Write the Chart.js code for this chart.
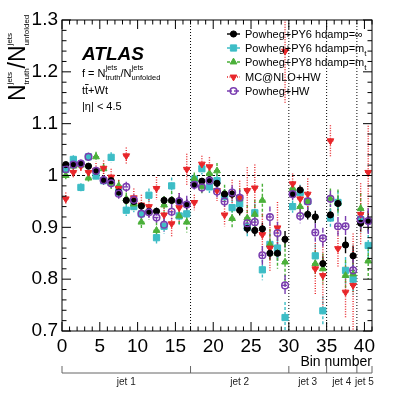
<!DOCTYPE html>
<html>
<head>
<meta charset="utf-8">
<script src="https://cdn.jsdelivr.net/npm/chart.js@4.4.0/dist/chart.umd.min.js"></script>
<style>
  html, body { margin: 0; padding: 0; background: #fff; }
  canvas { display: block; }
</style>
</head>
<body>
<canvas id="chart" width="413" height="396" style="width:413px;height:396px"></canvas>
<script>
// Valeurs (bin 0..40)
const seriesNames = ['Powheg+PY6 hdamp=\u221E', 'Powheg+PY6 hdamp=m', 'Powheg+PY8 hdamp=m', 'MC@NLO+HW', 'Powheg+HW'];

const py6Inf = [1.021, 1.021, 1.023, 1.018, 1.008, 0.990, 0.990, 0.968, 0.952, 0.950, 0.941, 0.931, 0.931, 0.952, 0.952, 0.951, 0.944,
  0.982, 0.989, 0.992, 0.985, 0.964, 0.964, 0.933, 0.898, 0.894, 0.897, 0.850, 0.850, 0.877,
  0.964, 0.972, 0.925, 0.920, 0.830,
  0.924, 0.946, 0.866, 0.845,
  0.908, 0.912];
const py6Mt = [1.012, 1.031, 0.977, 1.036, 0.999, 0.990, 1.035, 0.968, 0.933, 0.940, 0.926, 0.962, 0.880, 0.902, 0.980, 0.922, 0.926,
  0.993, 1.013, 0.978, 0.990, 0.960, 0.938, 0.945, 0.900, 0.928, 0.818, 0.867, 0.860, 0.726,
  0.940, 0.967, 0.950, 0.845, 0.739,
  0.918, 0.948, 0.817, 0.800,
  0.915, 0.865];
const py8Mt = [1.000, 1.018, 1.020, 0.995, 1.036, 1.013, 0.985, 0.980, 0.955, 0.945, 0.910, 0.930, 0.894, 0.943, 0.952, 0.922, 0.910,
  0.994, 0.978, 1.004, 1.009, 0.966, 0.917, 0.955, 0.918, 0.925, 0.952, 0.867, 0.850, 0.833,
  0.975, 0.940, 0.950, 0.830, 0.820,
  0.955, 0.948, 0.807, 0.810,
  0.936, 0.835];
const mcnloHw = [0.955, 1.006, 1.018, 1.006, 1.010, 1.014, 0.997, 0.975, 1.038, 0.957, 0.943, 0.940, 0.975, 0.924, 0.907, 0.938, 1.012,
  0.948, 1.022, 1.017, 0.971, 0.924, 0.964, 0.958, 0.971, 0.976, 0.886, 0.860, 0.899, 1.240,
  0.984, 0.955, 0.964, 0.820, 0.807,
  1.067, 0.859, 0.775, 0.788,
  0.925, 1.006];
const powhegHw = [1.012, 1.021, 1.023, 1.036, 1.009, 0.991, 0.985, 0.965, 0.978, 0.953, 0.926, 0.929, 0.919, 0.905, 0.930, 0.950, 0.944,
  0.982, 0.977, 0.990, 0.969, 0.950, 0.967, 0.957, 0.908, 0.910, 0.846, 0.920, 0.889, 0.788,
  0.964, 0.922, 0.950, 0.890, 0.879,
  0.955, 0.902, 0.902, 0.817,
  0.915, 0.912];

// Incertitudes (demi-longueur des barres)
const errPy6Inf = [0.005, 0.005, 0.005, 0.005, 0.005, 0.005, 0.005, 0.006, 0.006, 0.006, 0.007, 0.007, 0.007, 0.008, 0.008, 0.009, 0.010,
  0.006, 0.006, 0.007, 0.007, 0.008, 0.009, 0.010, 0.010, 0.011, 0.012, 0.013, 0.014, 0.016,
  0.008, 0.009, 0.010, 0.012, 0.014,
  0.012, 0.014, 0.016, 0.020,
  0.016, 0.020];
const errPy6Mt = [0.008, 0.008, 0.008, 0.008, 0.009, 0.009, 0.010, 0.010, 0.011, 0.011, 0.012, 0.013, 0.014, 0.015, 0.016, 0.017, 0.018,
  0.010, 0.011, 0.012, 0.013, 0.014, 0.015, 0.016, 0.017, 0.018, 0.020, 0.022, 0.025, 0.030,
  0.012, 0.015, 0.018, 0.022, 0.028,
  0.018, 0.022, 0.026, 0.030,
  0.025, 0.030];
const errPy8Mt = [0.008, 0.008, 0.008, 0.009, 0.010, 0.010, 0.011, 0.012, 0.012, 0.013, 0.014, 0.015, 0.016, 0.017, 0.018, 0.019, 0.020,
  0.012, 0.013, 0.014, 0.015, 0.016, 0.018, 0.020, 0.025, 0.028, 0.032, 0.030, 0.030, 0.045,
  0.015, 0.018, 0.020, 0.025, 0.030,
  0.020, 0.025, 0.030, 0.035,
  0.030, 0.035];
const errMcnloHw = [0.012, 0.012, 0.012, 0.013, 0.014, 0.015, 0.016, 0.016, 0.016, 0.018, 0.020, 0.020, 0.022, 0.024, 0.026, 0.028, 0.030,
  0.015, 0.016, 0.018, 0.020, 0.022, 0.028, 0.032, 0.045, 0.045, 0.040, 0.045, 0.050, 0.100,
  0.020, 0.025, 0.030, 0.050, 0.070,
  0.030, 0.035, 0.050, 0.100,
  0.060, 0.090];
const errPowhegHw = [0.007, 0.007, 0.008, 0.008, 0.008, 0.009, 0.009, 0.010, 0.010, 0.011, 0.012, 0.012, 0.013, 0.014, 0.015, 0.016, 0.017,
  0.009, 0.010, 0.011, 0.012, 0.013, 0.014, 0.015, 0.016, 0.017, 0.018, 0.020, 0.022, 0.020,
  0.012, 0.014, 0.016, 0.018, 0.020,
  0.016, 0.018, 0.020, 0.024,
  0.020, 0.025];

// Découpage en multiplicité de jets
const jetEdges = [0, 17, 30, 35, 39, 41];
const jetLabels = ['jet 1', 'jet 2', 'jet 3', 'jet 4', 'jet 5'];

const FONT = '"Liberation Sans", Arial, Helvetica, sans-serif';

const styles = [
  { color: '#000000', shape: 'circle',   radius: 3.1, fill: true,  dash: [] },
  { color: '#3dbdc6', shape: 'rect',     radius: 4.4, fill: true,  dash: [3, 2] },
  { color: '#4bb03a', shape: 'triangle', radius: 3.9, fill: true,  dash: [3, 2] },
  { color: '#e8262a', shape: 'triangle', radius: 3.9, fill: true,  dash: [1, 1.5], rotation: 180 },
  { color: '#7a3db0', shape: 'circle',   radius: 3.3, fill: false, dash: [5, 2] }
];
const values = [py6Inf, py6Mt, py8Mt, mcnloHw, powhegHw];
const errors = [errPy6Inf, errPy6Mt, errPy8Mt, errMcnloHw, errPowhegHw];
const drawOrder = [1, 4, 3, 2, 0]; // plus petit = au-dessus

const datasets = values.map((vals, k) => ({
  label: seriesNames[k],
  data: vals.map((v, i) => ({ x: i + 0.5, y: v })),
  errs: errors[k],
  showLine: false,
  order: drawOrder[k],
  pointStyle: styles[k].shape,
  pointRotation: styles[k].rotation || 0,
  pointRadius: styles[k].radius,
  pointBackgroundColor: styles[k].fill ? styles[k].color : 'rgba(0,0,0,0)',
  pointBorderColor: styles[k].color,
  pointBorderWidth: styles[k].fill ? 1 : 1.5
}));

function line(ctx, x1, y1, x2, y2) {
  ctx.beginPath(); ctx.moveTo(x1, y1); ctx.lineTo(x2, y2); ctx.stroke();
}

// N avec exposant et indice empilés
function scriptN(ctx, x, y, big, small, sup, sub, supDy, subDy) {
  ctx.font = big + 'px ' + FONT;
  ctx.fillText('N', x, y);
  x += ctx.measureText('N').width;
  ctx.font = small + 'px ' + FONT;
  ctx.fillText(sup, x, y + supDy);
  ctx.fillText(sub, x, y + subDy);
  return x + Math.max(ctx.measureText(sup).width, ctx.measureText(sub).width);
}

function drawMarker(ctx, st, x, y) {
  ctx.save();
  ctx.fillStyle = st.color; ctx.strokeStyle = st.color;
  ctx.lineWidth = st.fill ? 1 : 1.5;
  ctx.setLineDash([]);
  const r = st.radius;
  ctx.beginPath();
  if (st.shape === 'circle') {
    ctx.arc(x, y, r, 0, Math.PI * 2);
  } else if (st.shape === 'rect') {
    const s = r / Math.SQRT2;
    ctx.rect(x - s, y - s, 2 * s, 2 * s);
  } else {
    const dir = st.rotation ? -1 : 1;
    ctx.moveTo(x, y - dir * r);
    ctx.lineTo(x + r * 0.866, y + dir * r * 0.5);
    ctx.lineTo(x - r * 0.866, y + dir * r * 0.5);
    ctx.closePath();
  }
  if (st.fill) ctx.fill();
  ctx.stroke();
  ctx.restore();
}

const atlasPlugin = {
  id: 'atlasDecor',
  beforeDatasetsDraw(chart) {
    const { ctx, chartArea: a, scales: { x, y } } = chart;
    ctx.save();
    ctx.beginPath(); ctx.rect(a.left, a.top, a.right - a.left, a.bottom - a.top); ctx.clip();
    // ligne à 1
    ctx.strokeStyle = '#000'; ctx.lineWidth = 1.2; ctx.setLineDash([3, 2]);
    line(ctx, a.left, y.getPixelForValue(1), a.right, y.getPixelForValue(1));
    // séparations entre multiplicités
    ctx.lineWidth = 1; ctx.setLineDash([1, 2]);
    jetEdges.slice(1, -1).forEach(e => line(ctx, x.getPixelForValue(e), a.top, x.getPixelForValue(e), a.bottom));
    // barres d'erreur
    chart.data.datasets.forEach((ds, k) => {
      const st = styles[k];
      ctx.strokeStyle = st.color; ctx.lineWidth = 1.4; ctx.setLineDash(st.dash);
      ds.data.forEach((p, i) => {
        const e = ds.errs[i];
        const px = x.getPixelForValue(p.x);
        line(ctx, px, y.getPixelForValue(p.y + e), px, y.getPixelForValue(p.y - e));
        const py = y.getPixelForValue(p.y);
        line(ctx, x.getPixelForValue(p.x - 0.4), py, x.getPixelForValue(p.x + 0.4), py);
      });
    });
    ctx.restore();
  },
  afterDraw(chart) {
    const { ctx, chartArea: a, scales: { x, y } } = chart;
    ctx.save();
    ctx.strokeStyle = '#000'; ctx.lineWidth = 1; ctx.setLineDash([]);
    ctx.strokeRect(a.left, a.top, a.right - a.left, a.bottom - a.top);
    // graduations intérieures
    for (let v = 0; v <= 41; v++) {
      const px = x.getPixelForValue(v), len = v % 5 === 0 ? 9 : 4.5;
      line(ctx, px, a.bottom, px, a.bottom - len);
      line(ctx, px, a.top, px, a.top + len);
    }
    for (let k = 0; k <= 30; k++) {
      const py = y.getPixelForValue(0.7 + k * 0.02), len = k % 5 === 0 ? 9 : 4.5;
      line(ctx, a.left, py, a.left + len, py);
      line(ctx, a.right, py, a.right - len, py);
    }

    ctx.fillStyle = '#000';
    ctx.textBaseline = 'alphabetic';
    // titre de l'axe y
    ctx.save();
    ctx.translate(25, 101);
    ctx.rotate(-Math.PI / 2);
    let tx = scriptN(ctx, 0, 0, 23, 8, 'jets', 'truth', -13.5, 4);
    ctx.font = '23px ' + FONT;
    ctx.fillText('/', tx, 0);
    tx += ctx.measureText('/').width;
    scriptN(ctx, tx, 0, 23, 8, 'jets', 'unfolded', -13.5, 4);
    ctx.restore();

    // titre de l'axe x
    ctx.font = '14px ' + FONT;
    ctx.textAlign = 'right';
    ctx.fillText('Bin number', a.right, 366);
    ctx.textAlign = 'left';

    // axe des multiplicités
    ctx.strokeStyle = '#666'; ctx.lineWidth = 1;
    const yJ = 373;
    line(ctx, x.getPixelForValue(0), yJ, x.getPixelForValue(41), yJ);
    jetEdges.forEach(e => line(ctx, x.getPixelForValue(e), yJ, x.getPixelForValue(e), yJ - 7));
    ctx.font = '10px ' + FONT;
    ctx.fillStyle = '#222';
    ctx.textAlign = 'center';
    jetLabels.forEach((lab, i) => {
      ctx.fillText(lab, (x.getPixelForValue(jetEdges[i]) + x.getPixelForValue(jetEdges[i + 1])) / 2, 385);
    });
    ctx.textAlign = 'left';
    ctx.fillStyle = '#000';

    // étiquette ATLAS
    ctx.font = 'italic bold 19px ' + FONT;
    ctx.fillText('ATLAS', 82, 60);
    ctx.font = '11px ' + FONT;
    ctx.fillText('f = ', 82, 77);
    let fx = 82 + ctx.measureText('f = ').width;
    fx = scriptN(ctx, fx, 77, 11, 7.5, 'jets', 'truth', -7, 3);
    ctx.font = '11px ' + FONT;
    ctx.fillText('/', fx, 77);
    fx += ctx.measureText('/').width;
    scriptN(ctx, fx, 77, 11, 7.5, 'jets', 'unfolded', -7, 3);

    ctx.font = '11px ' + FONT;
    const wt = ctx.measureText('t').width;
    ctx.fillText('tt+Wt', 82, 94);
    ctx.strokeStyle = '#000'; ctx.lineWidth = 0.9;
    line(ctx, 82 + wt, 84.5, 82 + 2 * wt + 0.5, 84.5);
    ctx.fillText('|\u03B7| < 4.5', 82, 110);

    // légende
    const legY = [34, 48, 62, 77, 91];
    seriesNames.forEach((name, k) => {
      const st = styles[k], ly = legY[k];
      ctx.strokeStyle = st.color; ctx.lineWidth = 1.4; ctx.setLineDash(st.dash);
      line(ctx, 227, ly, 240, ly);
      ctx.setLineDash([]);
      drawMarker(ctx, st, 233.5, ly);
      ctx.fillStyle = '#000';
      ctx.font = '11px ' + FONT;
      ctx.fillText(name, 245, ly + 4);
      if (k === 1 || k === 2) {
        const w = ctx.measureText(name).width;
        ctx.font = '8px ' + FONT;
        ctx.fillText('t', 245 + w, ly + 8);
      }
    });
    ctx.restore();
  }
};

const chart = new Chart(document.getElementById('chart').getContext('2d'), {
  type: 'scatter',
  data: { datasets },
  options: {
    responsive: false,
    animation: false,
    devicePixelRatio: 1,
    layout: { padding: { top: 20, right: 41, left: 0, bottom: 0 } },
    plugins: { legend: { display: false }, tooltip: { enabled: false } },
    scales: {
      x: {
        type: 'linear', min: 0, max: 41,
        grid: { display: false, drawTicks: false },
        border: { display: false },
        ticks: {
          stepSize: 5, includeBounds: false, autoSkip: false, maxRotation: 0,
          padding: 4, color: '#000', font: { family: FONT, size: 19 }
        },
        afterFit: s => { s.height = 65; }
      },
      y: {
        min: 0.7, max: 1.3,
        grid: { display: false, drawTicks: false },
        border: { display: false },
        ticks: {
          stepSize: 0.1, padding: 4, color: '#000', font: { family: FONT, size: 19 },
          callback: v => String(parseFloat(v.toFixed(1)))
        },
        afterFit: s => { s.width = 62; }
      }
    }
  },
  plugins: [atlasPlugin]
});
</script>
</body>
</html>
